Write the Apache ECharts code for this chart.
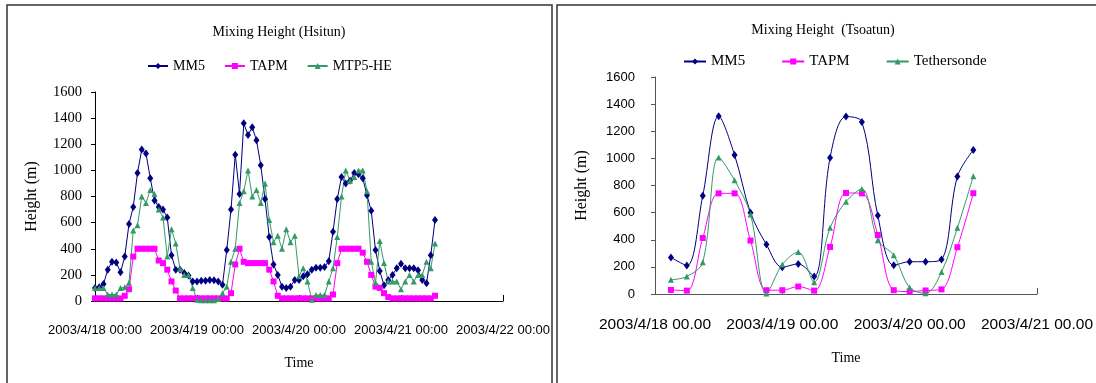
<!DOCTYPE html>
<html>
<head>
<meta charset="utf-8">
<script src="https://cdn.jsdelivr.net/npm/echarts@6/dist/echarts.min.js"></script>
<style>
  html, body { margin: 0; padding: 0; background: #fff; }
  #chart { width: 1096px; height: 383px; }
</style>
</head>
<body>
<div id="chart"></div>
<script>
// ---- Hsitun: hourly mixing height (m), first sample at 2003/4/18 00:00 ----
const hsitunMM5 = [
  100, 105, 130, 240, 300, 295, 220, 340, 590, 720,
  980, 1160, 1130, 940, 770, 720, 700, 640, 350, 240,
  240, 215, 195, 150, 150, 155, 155, 160, 158, 150,
  125, 390, 700, 1120, 820, 1360, 1270, 1330, 1230, 1040,
  780, 490, 280, 200, 110, 100, 110, 160, 160, 190,
  205, 240, 255, 255, 260, 305, 530, 780, 950, 900,
  920, 980, 970, 940, 810, 690, 390, 230, 120, 160,
  200, 250, 285, 250, 250, 250, 235, 160, 135, 350, 620
];
const hsitunTAPM = [
  20, 20, 20, 20, 20, 20, 20, 40, 90, 340,
  400, 400, 400, 400, 400, 310, 290, 240, 150, 80,
  20, 20, 20, 20, 20, 20, 20, 20, 20, 20,
  20, 20, 60, 280, 400, 300, 290, 290, 290, 290,
  290, 240, 150, 40, 20, 20, 20, 20, 20, 20,
  20, 20, 20, 20, 20, 20, 50, 290, 400, 400,
  400, 400, 400, 370, 300, 200, 110, 100, 60, 30,
  20, 20, 20, 20, 20, 20, 20, 20, 20, 20, 40
];
const hsitunMTP5 = [
  100, 100, 100, 50, 50, 50, 100, 105, 140, 540,
  580, 800, 750, 850, 820, 700, 640, 340, 550, 440,
  245, 200, 200, 100, 10, 5, 5, 5, 5, 15,
  60, 110, 300, 400, 750, 840, 1000, 800, 850, 750,
  900, 620, 450, 500, 400, 550, 450, 500, 190, 250,
  150, 10, 45, 45, 45, 150, 250, 490, 800, 1000,
  920, 950, 1000, 1000, 840, 300, 140, 460, 290, 150,
  150, 150, 90, 150, 200, 150, 200, 200, 300, 250, 440
];
const hsitunDayLabels = ['2003/4/18 00:00', '2003/4/19 00:00', '2003/4/20 00:00', '2003/4/21 00:00', '2003/4/22 00:00'];

// ---- Tsoatun: 3-hourly mixing height (m), hours after 2003/4/18 00:00 ----
const tsoatunHours = [3, 6, 9, 12, 15, 18, 21, 24, 27, 30, 33, 36, 39, 42, 45, 48, 51, 54, 57, 60];
const tsoatunMM5 = [270, 210, 725, 1310, 1025, 600, 365, 198, 222, 129, 1005, 1308, 1268, 578, 212, 238, 238, 254, 866, 1062];
const tsoatunTAPM = [30, 25, 413, 742, 742, 394, 28, 28, 55, 25, 347, 745, 742, 435, 28, 18, 26, 34, 345, 743];
const tsoatunTether = [105, 129, 234, 1007, 838, 587, 4, 217, 309, 87, 488, 681, 775, 397, 285, 48, 5, 162, 488, 869];
const tsoatunDayLabels = ['2003/4/18 00.00', '2003/4/19 00.00', '2003/4/20 00.00', '2003/4/21 00.00'];

const COLOR_MM5 = '#000080';
const COLOR_TAPM = '#ff00ff';
const COLOR_GREEN = '#339966';
const SERIF = 'Liberation Serif';
const SANS = 'Liberation Sans';

const hourly = arr => arr.map((v, i) => [i, v]);
const paired = (hours, arr) => arr.map((v, i) => [hours[i], v]);

function lineSeries(name, data, color, symbol, size, axisIdx, smooth) {
  return {
    name, type: 'line', data,
    xAxisIndex: axisIdx, yAxisIndex: axisIdx,
    symbol, symbolSize: size,
    smooth: smooth ? 0.35 : false,
    lineStyle: { color, width: 1 },
    itemStyle: { color, borderWidth: 0 },
    emphasis: { disabled: true },
    animation: false
  };
}

function yAxisDef(gridIndex, axisColor, labelFont, labelSize, labelMargin, nameGap) {
  return {
    type: 'value', gridIndex, min: 0, max: 1600, interval: 200,
    axisLine: { show: true, lineStyle: { color: axisColor, width: 1 } },
    axisTick: { show: true, inside: false, length: 4, lineStyle: { color: axisColor } },
    splitLine: { show: false },
    axisLabel: {
      color: '#000', fontFamily: labelFont, fontSize: labelSize, margin: labelMargin,
      formatter: v => String(v)
    },
    name: 'Height (m)', nameLocation: 'middle', nameGap, nameRotate: 90,
    nameTextStyle: { color: '#000', fontFamily: SERIF, fontSize: 16 }
  };
}

function xAxisDef(gridIndex, maxHour, labels, axisColor, labelSize, labelMargin, nameGap) {
  return {
    type: 'value', gridIndex, min: 0, max: maxHour, interval: 24,
    axisLine: { show: true, onZero: false, lineStyle: { color: axisColor, width: 1 } },
    axisTick: { show: true, inside: true, length: 6, lineStyle: { color: axisColor } },
    splitLine: { show: false },
    axisLabel: {
      color: '#000', fontFamily: SANS, fontSize: labelSize, margin: labelMargin,
      formatter: v => labels[Math.round(v / 24)]
    },
    name: 'Time', nameLocation: 'middle', nameGap,
    nameTextStyle: { color: '#000', fontFamily: SERIF, fontSize: 14 }
  };
}

const chart = echarts.init(document.getElementById('chart'), null, { renderer: 'canvas' });

chart.setOption({
  backgroundColor: '#fff',
  animation: false,
  title: [
    {
      text: 'Mixing Height (Hsitun)', left: 279, top: 32, padding: 0,
      textAlign: 'center', textVerticalAlign: 'middle',
      textStyle: { fontFamily: SERIF, fontSize: 14, fontWeight: 'normal', color: '#000' }
    },
    {
      text: 'Mixing Height  (Tsoatun)', left: 823, top: 30, padding: 0,
      textAlign: 'center', textVerticalAlign: 'middle',
      textStyle: { fontFamily: SERIF, fontSize: 14, fontWeight: 'normal', color: '#000' }
    }
  ],
  legend: [
    {
      data: ['MM5', 'TAPM', 'MTP5-HE'], left: 147, top: 59, padding: 0,
      itemGap: 19, itemWidth: 20, itemHeight: 7.5,
      textStyle: { fontFamily: SERIF, fontSize: 14, color: '#000' }
    },
    {
      data: ['MM5', 'TAPM', 'Tethersonde'], left: 683, top: 54, padding: 0,
      itemGap: 36, itemWidth: 22, itemHeight: 7.5,
      textStyle: { fontFamily: SERIF, fontSize: 15, color: '#000' }
    }
  ],
  grid: [
    { left: 95, right: 593, top: 92, bottom: 82, containLabel: false },
    { left: 655, right: 56, top: 77, bottom: 89, containLabel: false }
  ],
  xAxis: [
    xAxisDef(0, 96, hsitunDayLabels, '#000', 13, 23, 55),
    xAxisDef(1, 72, tsoatunDayLabels, '#555', 15.5, 23, 57)
  ],
  yAxis: [
    yAxisDef(0, '#000', SERIF, 14.5, 13, 55),
    yAxisDef(1, '#555', SANS, 13, 20, 65)
  ],
  series: [
    lineSeries('MM5', hourly(hsitunMM5), COLOR_MM5, 'diamond', [6, 8], 0, false),
    lineSeries('TAPM', hourly(hsitunTAPM), COLOR_TAPM, 'rect', 6, 0, false),
    lineSeries('MTP5-HE', hourly(hsitunMTP5), COLOR_GREEN, 'triangle', 6, 0, false),
    lineSeries('MM5', paired(tsoatunHours, tsoatunMM5), COLOR_MM5, 'diamond', [6, 8], 1, true),
    lineSeries('TAPM', paired(tsoatunHours, tsoatunTAPM), COLOR_TAPM, 'rect', 6, 1, true),
    lineSeries('Tethersonde', paired(tsoatunHours, tsoatunTether), COLOR_GREEN, 'triangle', 6, 1, true)
  ],
  graphic: [
    // panel frames
    {
      type: 'rect', silent: true, z: -1,
      shape: { x: 7, y: 5, width: 545, height: 420 },
      style: { fill: 'none', stroke: '#333', lineWidth: 1.5 }
    },
    {
      type: 'rect', silent: true, z: -1,
      shape: { x: 557, y: 5, width: 600, height: 420 },
      style: { fill: 'none', stroke: '#333', lineWidth: 1.5 }
    }
  ]
});
</script>
</body>
</html>
